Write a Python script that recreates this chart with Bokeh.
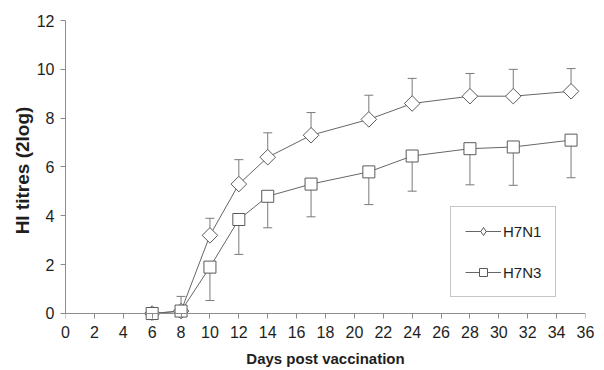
import math
from bokeh.plotting import figure
from bokeh.models import (ColumnDataSource, Whisker, TeeHead, Legend, LegendItem,
                          FixedTicker, Range1d, LinearAxis)
from bokeh.embed import file_html
from bokeh.resources import INLINE

# ---- data ----
days = [6, 8, 10, 12, 14, 17, 21, 24, 28, 31, 35]
h7n1 = [0.0, 0.1, 3.2, 5.3, 6.4, 7.3, 7.95, 8.6, 8.9, 8.9, 9.1]
h7n1_err = [0.0, 0.6, 0.7, 1.0, 1.0, 0.93, 0.99, 1.03, 0.93, 1.1, 0.93]
h7n3 = [0.0, 0.1, 1.9, 3.85, 4.8, 5.3, 5.8, 6.45, 6.75, 6.82, 7.1]
h7n3_err = [0.25, 0.0, 1.37, 1.43, 1.29, 1.34, 1.34, 1.44, 1.48, 1.57, 1.54]
x_ticks = list(range(0, 37, 2))
y_ticks = list(range(0, 13, 2))
series_names = ["H7N1", "H7N3"]

FONT = "Liberation Sans"
LINE = "#666666"
MARK = "#5a5a5a"
WHISK = "#7a7a7a"
AXIS = "#8c8c8c"
TEXT = "#1e1e1e"

src1 = ColumnDataSource(dict(x=days, y=h7n1,
                             up=[v + e for v, e in zip(h7n1, h7n1_err)]))
src3 = ColumnDataSource(dict(x=days, y=h7n3,
                             lo=[v - e for v, e in zip(h7n3, h7n3_err)]))

p = figure(width=604, height=370, output_backend="svg", toolbar_location=None,
           x_range=Range1d(0, 36), y_range=Range1d(-0.287, 12),
           min_border_left=65, min_border_right=19, min_border_top=20,
           min_border_bottom=50)
p.outline_line_color = None
p.xgrid.visible = False
p.ygrid.visible = False
p.background_fill_color = "white"
p.border_fill_color = "white"

# bottom axis: carries the tick labels and the title
xa = p.xaxis[0]
xa.ticker = FixedTicker(ticks=x_ticks)
xa.axis_line_color = None
xa.major_tick_line_color = None
xa.minor_tick_line_color = None
xa.major_tick_out = 0
xa.major_tick_in = 0
xa.major_label_standoff = 5
xa.major_label_text_font = FONT
xa.major_label_text_font_size = "16px"
xa.major_label_text_color = TEXT
xa.axis_label = "Days post vaccination"
xa.axis_label_text_font = FONT
xa.axis_label_text_font_style = "bold"
xa.axis_label_text_font_size = "15px"
xa.axis_label_text_color = TEXT
xa.axis_label_standoff = 9

# axis line and ticks at y = 0
x0 = LinearAxis(fixed_location=0, ticker=FixedTicker(ticks=x_ticks),
                axis_line_color=AXIS, major_tick_line_color=AXIS,
                minor_tick_line_color=None, major_tick_in=5, major_tick_out=0,
                major_label_standoff=0, major_label_text_font_size="1px",
                major_label_overrides={t: "" for t in x_ticks})
p.add_layout(x0, "above")

ya = p.yaxis[0]
ya.ticker = FixedTicker(ticks=y_ticks)
ya.bounds = (0, 12)
ya.axis_line_color = AXIS
ya.major_tick_line_color = AXIS
ya.minor_tick_line_color = None
ya.major_tick_out = 5
ya.major_tick_in = 0
ya.major_label_standoff = 6
ya.major_label_text_font = FONT
ya.major_label_text_font_size = "16px"
ya.major_label_text_color = TEXT
ya.axis_label = "HI titres (2log)"
ya.axis_label_text_font = FONT
ya.axis_label_text_font_style = "bold"
ya.axis_label_text_font_size = "19px"
ya.axis_label_text_color = TEXT
ya.axis_label_standoff = 1

# error bars
p.add_layout(Whisker(source=src1, base="x", upper="up", lower="y",
                     upper_head=TeeHead(size=9, line_color=WHISK, line_width=1),
                     lower_head=None, line_color=WHISK, line_width=1))
p.add_layout(Whisker(source=src3, base="x", upper="y", lower="lo",
                     lower_head=TeeHead(size=9, line_color=WHISK, line_width=1),
                     upper_head=None, line_color=WHISK, line_width=1))

# lines
l1 = p.line("x", "y", source=src1, line_color=LINE, line_width=1)
l3 = p.line("x", "y", source=src3, line_color=LINE, line_width=1)
# small markers (legend symbols), hidden under the large ones
e1 = p.scatter("x", "y", source=src1, marker="diamond", size=6,
               fill_color="white", line_color=MARK)
e3 = p.scatter("x", "y", source=src3, marker="square", size=5,
               fill_color="white", line_color=MARK)
# large markers
p.scatter("x", "y", source=src1, marker="square", angle=math.pi / 4, size=11,
          fill_color="white", line_color=MARK, line_width=1)
p.scatter("x", "y", source=src3, marker="square", size=12,
          fill_color="white", line_color=MARK, line_width=1)

legend = Legend(items=[LegendItem(label=series_names[0], renderers=[l1, e1]),
                       LegendItem(label=series_names[1], renderers=[l3, e3])],
                location=(385, 23), orientation="vertical",
                glyph_width=36, glyph_height=20, label_standoff=2,
                padding=14, spacing=21, margin=0,
                label_text_font=FONT, label_text_font_size="15px",
                label_text_color=TEXT,
                border_line_color="#8c8c8c", border_line_width=1,
                background_fill_color="white", background_fill_alpha=1)
p.add_layout(legend)

open("out.html", "w").write(file_html(p, INLINE))
